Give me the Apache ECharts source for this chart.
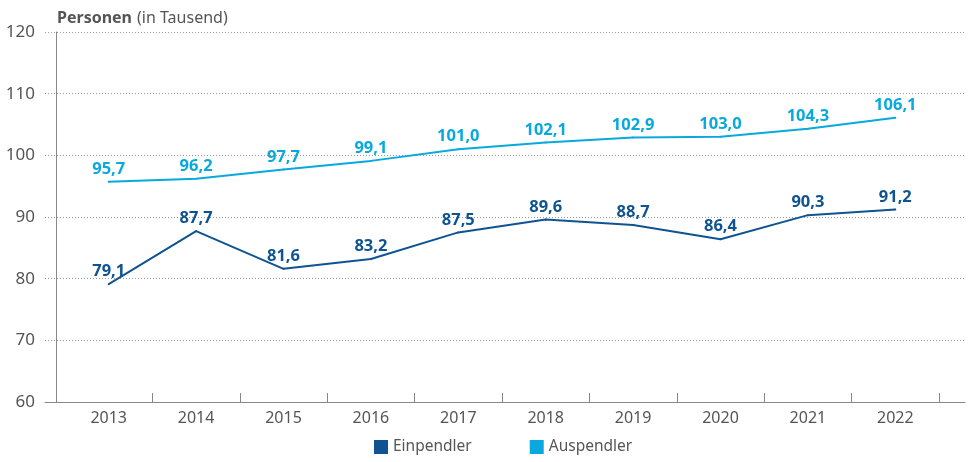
<!DOCTYPE html>
<html><head><meta charset="utf-8">
<script src="https://cdn.jsdelivr.net/npm/echarts@6/dist/echarts.min.js"></script>
<style>html,body{margin:0;padding:0;background:#fff}#c{width:969px;height:462px}</style>
</head><body><div id="c"></div>
<script>
const years = ['2013','2014','2015','2016','2017','2018','2019','2020','2021','2022'];
const einpendler = [79.1, 87.7, 81.6, 83.2, 87.5, 89.6, 88.7, 86.4, 90.3, 91.2];
const auspendler = [95.7, 96.2, 97.7, 99.1, 101.0, 102.1, 102.9, 103.0, 104.3, 106.1];
const seriesNames = ['Einpendler', 'Auspendler'];
const colors = ['#0f5490', '#09a9dd'];
const FONT = '"Noto Sans", sans-serif';
const fmt = v => v.toFixed(1).replace('.', ',');

const chart = echarts.init(document.getElementById('c'), null, {renderer: 'canvas'});
const lab = (c) => ({show: true, position: 'top', distance: 3, color: c, fontFamily: FONT, fontWeight: 'bold', fontSize: 16.5, formatter: p => fmt(p.value)});
chart.setOption({
  animation: false,
  title: {
    text: '{b|Personen} {r|(in Tausend)}', left: 52, top: 4,
    textStyle: {rich: {
      b: {fontFamily: FONT, fontWeight: 'bold', fontSize: 16, color: '#555'},
      r: {fontFamily: FONT, fontWeight: 'normal', fontSize: 16, color: '#555'}
    }}
  },
  legend: {
    bottom: 2, left: 369, itemWidth: 14, itemHeight: 14, itemGap: 58, icon: 'rect',
    textStyle: {fontFamily: FONT, fontSize: 15.5, color: '#555'},
    data: seriesNames
  },
  grid: [
    {left: 45, right: 4, top: 32, bottom: 60},
    {left: 65, right: 30, top: 32, bottom: 60}
  ],
  xAxis: [
    {gridIndex: 0, type: 'value', min: 0, max: 1, show: true, axisLabel: {show: false}, axisTick: {show: false}, splitLine: {show: false}, axisLine: {lineStyle: {color: '#888', width: 1}}},
    {gridIndex: 1, type: 'category', data: years, boundaryGap: true,
     axisLine: {show: true, lineStyle: {color: '#888', width: 1}},
     axisTick: {show: true, inside: true, length: 9, interval: (i) => i !== 0, lineStyle: {color: '#888', width: 1}},
     axisLabel: {fontFamily: FONT, fontSize: 16, color: '#555', margin: 8, interval: 0}}
  ],
  yAxis: [
    {gridIndex: 0, type: 'value', min: 60, max: 120, interval: 10, axisLabel: {show: false}, axisLine: {show: false}, axisTick: {show: false},
     splitLine: {lineStyle: {color: '#999', type: [1, 2], width: 1}}},
    {gridIndex: 1, type: 'value', min: 60, max: 120, interval: 10, offset: 9,
     axisLine: {show: true, lineStyle: {color: '#888', width: 1}}, axisTick: {show: false}, splitLine: {show: false},
     axisLabel: {fontFamily: FONT, fontSize: 17, color: '#555', margin: 21}}
  ],
  series: [
    {name: seriesNames[0], type: 'line', xAxisIndex: 1, yAxisIndex: 1, data: einpendler, symbol: 'circle', symbolSize: 2, showSymbol: true,
     itemStyle: {color: colors[0]}, lineStyle: {width: 2, color: colors[0]}, label: lab(colors[0])},
    {name: seriesNames[1], type: 'line', xAxisIndex: 1, yAxisIndex: 1, data: auspendler, symbol: 'circle', symbolSize: 2, showSymbol: true,
     itemStyle: {color: colors[1]}, lineStyle: {width: 2, color: colors[1]}, label: lab(colors[1])}
  ]
});
</script></body></html>
